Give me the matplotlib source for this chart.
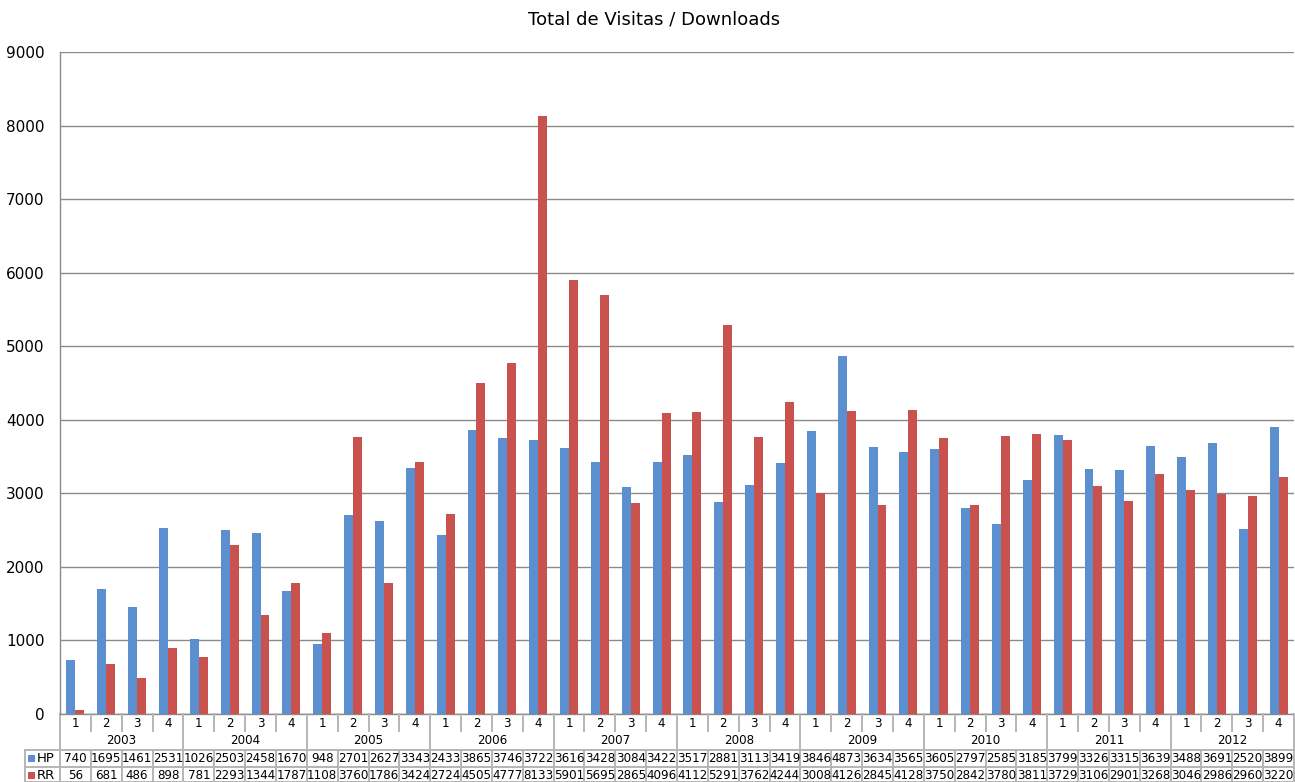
import matplotlib
matplotlib.use("Agg")
import matplotlib.pyplot as plt
from matplotlib.transforms import blended_transform_factory
from matplotlib.patches import Rectangle
import numpy as np

years = ["2003", "2004", "2005", "2006", "2007", "2008", "2009", "2010", "2011", "2012"]
quarters = ["1", "2", "3", "4"]
hp = [740, 1695, 1461, 2531, 1026, 2503, 2458, 1670, 948, 2701, 2627, 3343,
      2433, 3865, 3746, 3722, 3616, 3428, 3084, 3422, 3517, 2881, 3113, 3419,
      3846, 4873, 3634, 3565, 3605, 2797, 2585, 3185, 3799, 3326, 3315, 3639,
      3488, 3691, 2520, 3899]
rr = [56, 681, 486, 898, 781, 2293, 1344, 1787, 1108, 3760, 1786, 3424,
      2724, 4505, 4777, 8133, 5901, 5695, 2865, 4096, 4112, 5291, 3762, 4244,
      3008, 4126, 2845, 4128, 3750, 2842, 3780, 3811, 3729, 3106, 2901, 3268,
      3046, 2986, 2960, 3220]
series_names = ["HP", "RR"]
title = "Total de Visitas / Downloads"

blue = "#5B8FD0"
red = "#C9524F"
grid_c = "#8a8a8a"
tab_c = "#b5b5b5"
plt.rcParams["font.family"] = ["DejaVu Sans"]

W, H = 1295, 782
fig = plt.figure(figsize=(W / 100, H / 100), dpi=100)
L, R, T, B = 60, 1294, 52, 714
ax = fig.add_axes([L / W, 1 - B / H, (R - L) / W, (B - T) / H])

n = len(hp)
x = np.arange(n)
bw = 0.29
ax.bar(x - bw / 2, hp, width=bw, color=blue, zorder=3)
ax.bar(x + bw / 2, rr, width=bw, color=red, zorder=3)
ax.set_xlim(-0.5, n - 0.5)
ax.set_ylim(0, 9000)
ax.set_yticks(np.arange(0, 9001, 1000))
ax.set_yticklabels([str(v) for v in range(0, 9001, 1000)], fontsize=11)
ax.tick_params(axis="y", length=0, pad=11)
ax.set_xticks([])
ax.yaxis.grid(True, color=grid_c, linewidth=1, zorder=0)
for s in ["top", "right", "bottom"]:
    ax.spines[s].set_visible(False)
ax.spines["left"].set_color(grid_c)
ax.spines["left"].set_linewidth(1)

fig.text(654 / W, 1 - 20 / H, title, ha="center", va="center", fontsize=13)

tr = blended_transform_factory(ax.transData, fig.transFigure)
def fy(p):
    return 1 - p / H

def vline(xd, y0, y1):
    ax.plot([xd, xd], [fy(y0), fy(y1)], transform=tr, color=tab_c, lw=1.4, clip_on=False)

def hline(x0, x1, yp):
    ax.plot([x0, x1], [fy(yp), fy(yp)], transform=tr, color=tab_c, lw=1.4, clip_on=False)

# axis line at 0
ax.plot([-0.5, n - 0.5], [fy(B), fy(B)], transform=tr, color=grid_c, lw=1, clip_on=False)

# quarter / year dividers
for i in range(1, n):
    if i % 4 == 0:
        vline(i - 0.5, B, 750)
    else:
        vline(i - 0.5, B, 731)
vline(-0.5, B, 782)
vline(n - 0.5, B, 782)

tfs = 8.6
for i in range(n):
    ax.text(i, fy(723.5), quarters[i % 4], transform=tr, ha="center", va="center", fontsize=tfs)
for j, yv in enumerate(years):
    ax.text(4 * j + 1.5, fy(740.5), yv, transform=tr, ha="center", va="center", fontsize=tfs)

# data table
xleft = -0.5 - (L - 25) / ((R - L) / n)
hline(xleft, n - 0.5, 750)
hline(xleft, n - 0.5, 767)
hline(xleft, n - 0.5, 782)
ax.plot([xleft, xleft], [fy(750), fy(782)], transform=tr, color=tab_c, lw=1.4, clip_on=False)
for i in range(1, n):
    vline(i - 0.5, 750, 782)

for row, (vals, name, col) in enumerate(zip([hp, rr], series_names, [blue, red])):
    yc = 758 + row * 17.5
    for i, v in enumerate(vals):
        ax.text(i, fy(yc), str(v), transform=tr, ha="center", va="center", fontsize=tfs)
    fig.patches.append(Rectangle((28 / W, fy(yc + 3.5)), 7 / W, 7 / H, transform=fig.transFigure,
                                 facecolor=col, edgecolor="none"))
    fig.text(37 / W, fy(yc), name, ha="left", va="center", fontsize=9.5)

fig.savefig("out.png", dpi=100)
